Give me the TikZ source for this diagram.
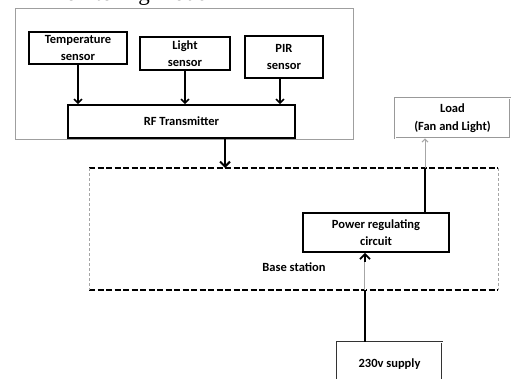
\documentclass[tikz,border=0pt]{standalone}
\usepackage{fontspec}
\setmainfont{Liberation Serif}
\newfontfamily\boxfont{Carlito}
\usetikzlibrary{arrows.meta}
\begin{document}
\begin{tikzpicture}[x=1pt,y=-1pt,
  blk/.style={draw=black, line width=1.8pt, rectangle, inner sep=0pt, align=center,
    font=\boxfont\bfseries\fontsize{12.5}{17}\selectfont},
  grayblk/.style={draw=gray!80, double=white, double distance=0.8pt, line width=0.7pt, rectangle, inner sep=0pt, align=center,
    font=\boxfont\bfseries\fontsize{12.5}{18}\selectfont},
  arr/.style={line width=1.5pt, -{Straight Barb[length=4pt,width=8pt,line width=1.5pt]}},
  thinarr/.style={draw=gray!70, line width=0.8pt, -{Straight Barb[length=3pt,width=6pt,line width=1pt]}},
  dashedline/.style={line width=2pt, dash pattern=on 6pt off 2.5pt},
  sideline/.style={gray!70, line width=0.6pt, dash pattern=on 3pt off 2pt}
]
\useasboundingbox (0,0) rectangle (511,379);
\clip (0,0) rectangle (511,379);

% title
\node[font=\fontsize{23}{23}\selectfont, anchor=base] (title) at (126,1) {Monitoring mode};

% monitoring box
\node[draw=gray!75, line width=1pt, rectangle, minimum width=338pt, minimum height=131pt, inner sep=0pt] (mon) at (184,74.5) {};

\node[blk, minimum width=98pt, minimum height=32pt] (temp) at (78,48) {Temperature\\sensor};
\node[blk, minimum width=90pt, minimum height=33pt] (light) at (185,53.5) {Light\\sensor};
\node[blk, minimum width=78pt, minimum height=42pt] (pir) at (284,57) {PIR\\sensor};
\node[blk, minimum width=227pt, minimum height=33pt] (rf) at (181.5,121.5) {RF Transmitter};

\draw[arr] (temp.south) -- (temp.south |- rf.north);
\draw[arr] (light.south) -- (light.south |- rf.north);
\draw[arr] (pir.south -| 280,0) -- (280,0 |- rf.north);

% base station
\coordinate (bTL) at (89,168);
\coordinate (bTR) at (498,168);
\coordinate (bBL) at (89,290);
\coordinate (bBR) at (498,290);
\draw[dashedline] (bTL) -- (bTR);
\draw[dashedline] (bBL) -- (bBR);
\draw[sideline] (bTL) -- (bBL);
\draw[sideline] (bTR) -- (bBR);
\node[font=\boxfont\bfseries\fontsize{12.5}{15}\selectfont] (bslabel) at (294,267) {Base station};

\draw[line width=2.2pt, -{Straight Barb[length=5pt,width=10pt,line width=2pt]}] (rf.south -| 225,0) -- (225,0 |- bTL);

\node[blk, minimum width=146pt, minimum height=39pt] (power) at (376,232.5) {Power regulating\\circuit};
\node[grayblk, minimum width=115pt, minimum height=40pt] (load) at (452.5,118) {Load\\(Fan and Light)};
\node[grayblk, draw=black!80, minimum width=105pt, minimum height=44pt] (supply) at (389.5,364) {230v supply};

% power -> load
\coordinate (pl) at (425,168);
\draw[line width=2pt] (power.north -| pl) -- (pl);
\draw[thinarr] (pl) -- (pl |- load.south);

% supply -> power
\coordinate (sp) at (365,290);
\draw[line width=2pt] (supply.north -| sp) -- (sp);
\draw[draw=gray!70, line width=0.8pt, double=white, double distance=1pt] (sp) -- ([yshift=-4pt]sp |- power.south);
\draw[line width=1.2pt, -{Straight Barb[length=5pt,width=10pt,line width=1.8pt]}] ([yshift=-9pt]sp |- power.south) -- (sp |- power.south);
\end{tikzpicture}
\end{document}
